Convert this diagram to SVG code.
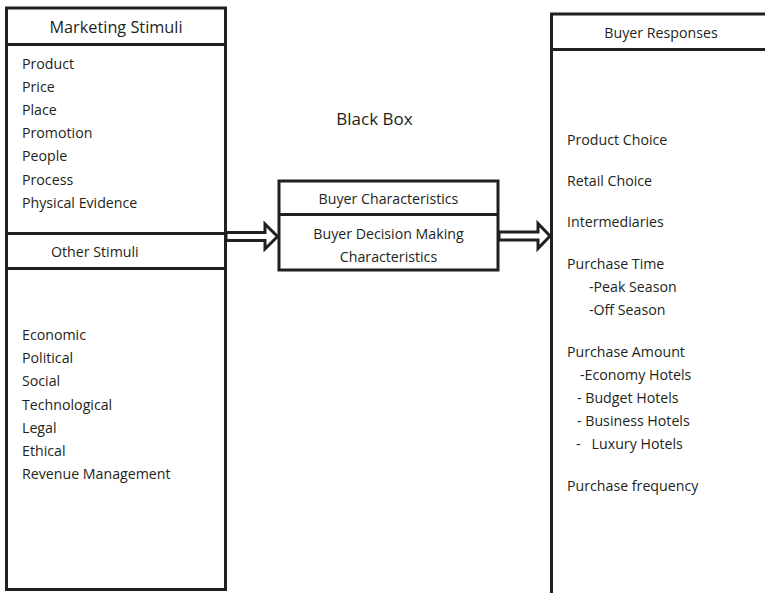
<svg xmlns="http://www.w3.org/2000/svg" width="765" height="593" viewBox="0 0 765 593">
  <style>
    .box { fill: #fff; stroke: #231f20; stroke-width: 3; }
    .rule { stroke: #231f20; stroke-width: 3; fill: none; }
    text { font-family: "Open Sans", "Noto Sans", "Liberation Sans", sans-serif; font-size: 14.2px; fill: #231f20; }
    .mid { text-anchor: middle; }
    .arrow { fill: #fff; stroke: #231f20; stroke-width: 3; stroke-linejoin: miter; }
  </style>

  <!-- Stimuli column -->
  <g id="stimuli">
    <rect class="box" x="6.5" y="8" width="219" height="581.5"/>
    <line class="rule" x1="6.5" y1="44.5" x2="225.5" y2="44.5"/>
    <line class="rule" x1="6.5" y1="233.5" x2="225.5" y2="233.5"/>
    <line class="rule" x1="6.5" y1="268.5" x2="225.5" y2="268.5"/>
    <text class="mid" x="116" y="33" style="font-size:16.3px">Marketing Stimuli</text>
    <text x="22" y="69">Product</text>
    <text x="22" y="92">Price</text>
    <text x="22" y="115">Place</text>
    <text x="22" y="138">Promotion</text>
    <text x="22" y="161">People</text>
    <text x="22" y="185">Process</text>
    <text x="22" y="208">Physical Evidence</text>
    <text x="51" y="257">Other Stimuli</text>
    <text x="22" y="340">Economic</text>
    <text x="22" y="363">Political</text>
    <text x="22" y="386">Social</text>
    <text x="22" y="410">Technological</text>
    <text x="22" y="433">Legal</text>
    <text x="22" y="456">Ethical</text>
    <text x="22" y="479">Revenue Management</text>
  </g>

  <!-- Black box label -->
  <g id="black-box">
    <text class="mid" x="374.5" y="125" style="font-size:17px">Black Box</text>
  </g>

  <!-- Buyer characteristics -->
  <g id="buyer">
    <rect class="box" x="279" y="181" width="219" height="89"/>
    <line class="rule" x1="279" y1="214.5" x2="498" y2="214.5"/>
    <text class="mid" x="388.5" y="204">Buyer Characteristics</text>
    <text class="mid" x="388.5" y="239">Buyer Decision Making</text>
    <text class="mid" x="388.5" y="262">Characteristics</text>
  </g>

  <!-- Buyer responses column -->
  <g id="responses">
    <path class="rule" d="M551.5 600 V14 H770"/>
    <line class="rule" x1="551.5" y1="49.5" x2="770" y2="49.5"/>
    <text class="mid" x="661" y="38">Buyer Responses</text>
    <text x="567" y="145">Product Choice</text>
    <text x="567" y="186">Retail Choice</text>
    <text x="567" y="227">Intermediaries</text>
    <text x="567" y="269">Purchase Time</text>
    <text x="589" y="292">-Peak Season</text>
    <text x="589" y="315">-Off Season</text>
    <text x="567" y="357">Purchase Amount</text>
    <text x="580" y="380">-Economy Hotels</text>
    <text x="577" y="403">- Budget Hotels</text>
    <text x="577" y="426">- Business Hotels</text>
    <text x="576" y="449" xml:space="preserve">-   Luxury Hotels</text>
    <text x="567" y="491">Purchase frequency</text>
  </g>

  <!-- Connectors: hollow block arrows -->
  <g id="connectors">
    <polygon class="arrow" points="226,232.5 265,232.5 265,224 277.5,236.5 265,249 265,240.5 226,240.5"/>
    <polygon class="arrow" points="499,232 538,232 538,223.5 550,236 538,248.5 538,240 499,240"/>
  </g>
</svg>
